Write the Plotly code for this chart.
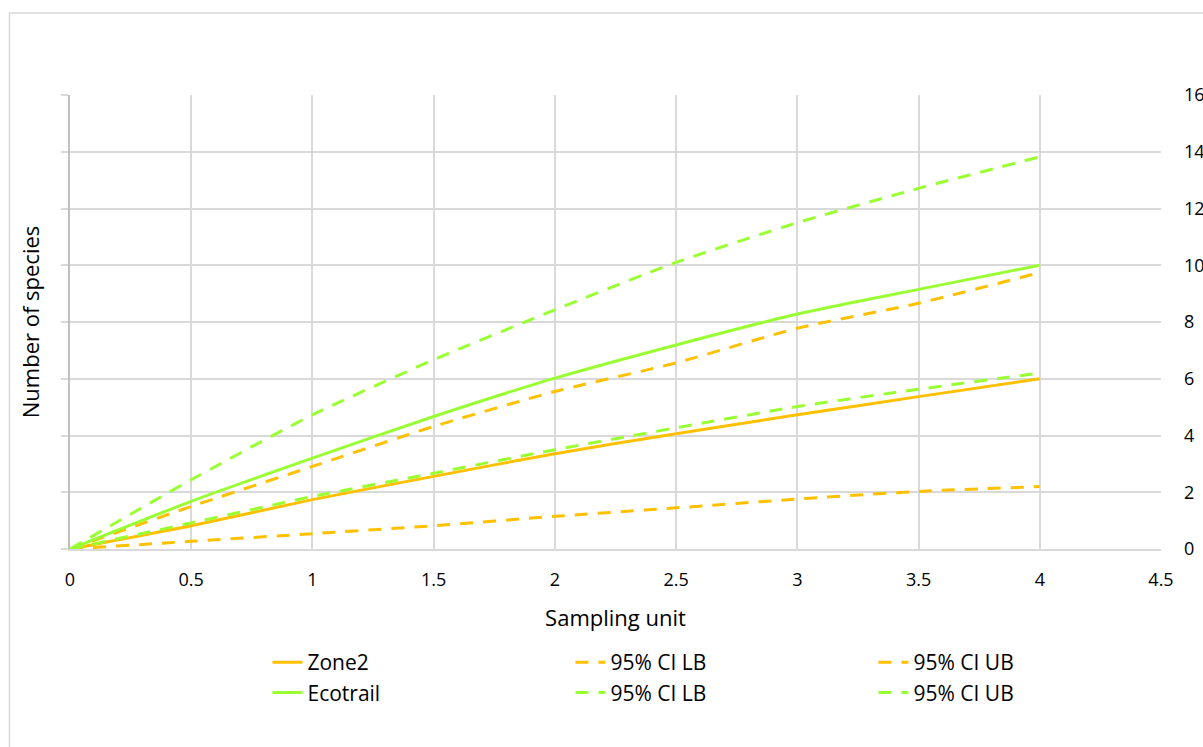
import plotly.graph_objects as go

sampling_unit = [0, 0.5, 1, 1.5, 2, 2.5, 3, 3.5, 4]

zone2 = [0, 0.82, 1.74, 2.56, 3.36, 4.06, 4.73, 5.37, 6.0]
zone2_lb = [0, 0.27, 0.54, 0.82, 1.15, 1.45, 1.76, 2.03, 2.2]
zone2_ub = [0, 1.5, 2.91, 4.32, 5.55, 6.56, 7.78, 8.66, 9.74]
ecotrail = [0, 1.68, 3.2, 4.67, 6.02, 7.19, 8.28, 9.15, 10.0]
ecotrail_lb = [0, 0.92, 1.85, 2.67, 3.5, 4.27, 5.02, 5.63, 6.2]
ecotrail_ub = [0, 2.44, 4.73, 6.67, 8.43, 10.1, 11.5, 12.71, 13.82]

series_names = ["Zone2", "95% CI LB", "95% CI UB", "Ecotrail", "95% CI LB", "95% CI UB"]
x_ticks = [0, 0.5, 1, 1.5, 2, 2.5, 3, 3.5, 4, 4.5]
x_tick_text = ["0", "0.5", "1", "1.5", "2", "2.5", "3", "3.5", "4", "4.5"]
y_ticks = [0, 2, 4, 6, 8, 10, 12, 14, 16]

ORANGE = "#FFC000"
GREEN = "#99FF33"
DASH = "13px,10px"
FONT = "Open Sans"

series = [
    (zone2, ORANGE, "solid"),
    (zone2_lb, ORANGE, DASH),
    (zone2_ub, ORANGE, DASH),
    (ecotrail, GREEN, "solid"),
    (ecotrail_lb, GREEN, DASH),
    (ecotrail_ub, GREEN, DASH),
]

fig = go.Figure()
for name, (vals, color, dash) in zip(series_names, series):
    fig.add_trace(go.Scatter(
        x=sampling_unit, y=vals, mode="lines", name=name,
        line=dict(color=color, width=3, dash=dash, shape="spline", smoothing=0.6),
    ))

# invisible trace to carry the right-side tick labels
fig.add_trace(go.Scatter(x=[0], y=[0], yaxis="y2", mode="lines",
                         line=dict(width=0), showlegend=False, hoverinfo="skip"))

W, H = 1203, 747
fig.update_layout(
    width=W, height=H,
    margin=dict(l=70, r=42, t=95, b=198),
    paper_bgcolor="white", plot_bgcolor="white",
    font=dict(family=FONT, size=18, color="#000000"),
    xaxis=dict(
        range=[0, 4.5], tickvals=x_ticks, ticktext=x_tick_text,
        showgrid=True, gridcolor="#d9d9d9", gridwidth=1.5,
        showline=True, linecolor="#d9d9d9", linewidth=1.5,
        ticks="", ticklabelstandoff=14, zeroline=False, automargin=False,
        tickfont=dict(size=18),
        title=dict(text="Sampling unit", standoff=20, font=dict(size=22)),
    ),
    yaxis=dict(
        range=[0, 16], tickvals=y_ticks, showticklabels=False,
        showgrid=True, gridcolor="#d9d9d9", gridwidth=1.5,
        showline=True, linecolor="#bfbfbf", linewidth=1.5,
        ticks="outside", ticklen=7, tickcolor="#d9d9d9", tickwidth=1.5,
        zeroline=False, automargin=False,
        title=dict(text="Number of species", standoff=16, font=dict(size=22)),
    ),
    yaxis2=dict(
        range=[0, 16], tickvals=y_ticks, overlaying="y", side="right",
        showgrid=False, showline=False, zeroline=False, ticks="",
        ticklabelstandoff=22, automargin=False, tickfont=dict(size=18),
    ),
    legend=dict(
        orientation="h", x=0.181, xanchor="left", y=-0.205, yanchor="top",
        entrywidth=258, entrywidthmode="pixels",
        font=dict(family=FONT, size=21), bgcolor="rgba(0,0,0,0)",
        tracegroupgap=0, itemwidth=30,
    ),
    showlegend=True,
)

fig.add_shape(type="rect", xref="paper", yref="paper",
              x0=-0.0555, x1=1.2, y0=-0.6, y1=1.1805,
              line=dict(color="#d9d9d9", width=1.5), fillcolor="rgba(0,0,0,0)",
              layer="below")

fig.write_html("out.html")
